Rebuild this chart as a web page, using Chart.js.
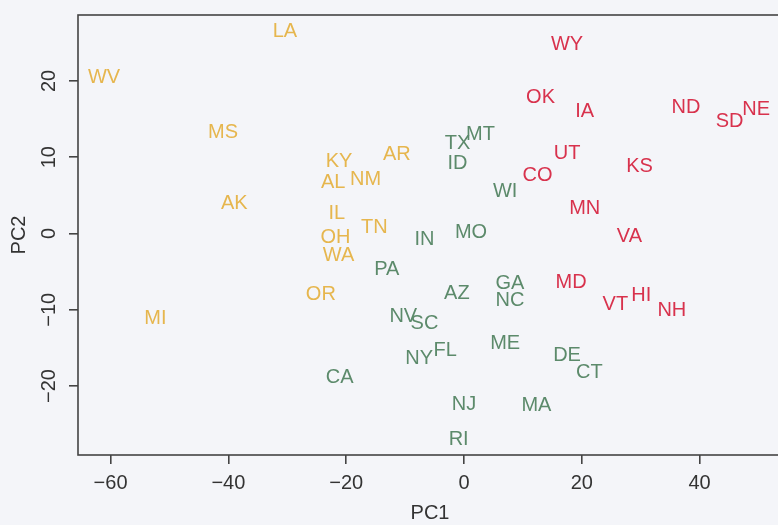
<!DOCTYPE html>
<html><head><meta charset="utf-8">
<script src="https://cdn.jsdelivr.net/npm/chart.js@4/dist/chart.umd.min.js"></script>
<style>html,body{margin:0;padding:0;overflow:hidden;background:#f4f5f9;} canvas{display:block;}</style>
</head><body>
<canvas id="c" width="790" height="525"></canvas>
<script>
// Cluster 1 (orange)
const orangeStates = ['WV','MS','AK','MI','LA','KY','AR','AL','NM','IL','TN','OH','WA','OR'];
const orangePC1 = [-61.1,-40.9,-39.0,-52.4,-30.4,-21.2,-11.4,-22.2,-16.7,-21.6,-15.2,-21.8,-21.3,-24.3];
const orangePC2 = [20.5,13.3,4.0,-11.1,26.5,9.5,10.4,6.8,7.2,2.7,0.9,-0.4,-2.8,-7.9];
// Cluster 2 (green)
const greenStates = ['TX','MT','ID','WI','IN','MO','PA','AZ','GA','NC','NV','SC','NY','FL','ME','CA','NJ','RI','DE','CT','MA'];
const greenPC1 = [-1.1,2.8,-1.1,7.0,-6.7,1.2,-13.1,-1.2,7.8,7.8,-10.3,-6.7,-7.6,-3.2,7.0,-21.1,0.0,-0.9,17.5,21.3,12.3];
const greenPC2 = [11.8,13.0,9.3,5.6,-0.7,0.2,-4.7,-7.8,-6.5,-8.7,-10.8,-11.8,-16.3,-15.3,-14.3,-18.8,-22.4,-26.9,-15.9,-18.2,-22.5];
// Cluster 3 (red)
const redStates = ['WY','OK','IA','ND','SD','NE','UT','CO','KS','MN','VA','MD','VT','HI','NH'];
const redPC1 = [17.5,13.0,20.5,37.7,45.1,49.6,17.5,12.5,29.8,20.5,28.1,18.2,25.7,30.1,35.3];
const redPC2 = [24.8,17.9,16.0,16.6,14.8,16.3,10.5,7.7,8.9,3.4,-0.3,-6.3,-9.3,-8.0,-10.0];

const xTicks = [-60,-40,-20,0,20,40];
const yTicks = [-20,-10,0,10,20];
const xTitle = 'PC1';
const yTitle = 'PC2';

const FONT = '"Liberation Sans", Arial, Helvetica, sans-serif';
const LABEL_SIZE = 20;
const AXIS_COLOR = '#444444';
const TEXT_COLOR = '#333333';

function pts(a, b) { return a.map((v, i) => ({ x: v, y: b[i] })); }
function fmt(v) { return v < 0 ? '\u2212' + Math.abs(v) : String(v); }

const labelPlugin = {
  id: 'stateLabels',
  afterDatasetsDraw(chart) {
    const ctx = chart.ctx;
    ctx.save();
    ctx.font = LABEL_SIZE + 'px ' + FONT;
    ctx.textAlign = 'center';
    ctx.textBaseline = 'alphabetic';
    chart.data.datasets.forEach((ds, di) => {
      const meta = chart.getDatasetMeta(di);
      ctx.fillStyle = ds.labelColor;
      meta.data.forEach((el, i) => {
        ctx.fillText(ds.stateNames[i], el.x, el.y + LABEL_SIZE * 0.3);
      });
    });
    ctx.restore();
  }
};
const framePlugin = {
  id: 'frame',
  afterDraw(chart) {
    const { left, top, right, bottom } = chart.chartArea;
    const ctx = chart.ctx;
    ctx.save();
    ctx.strokeStyle = AXIS_COLOR;
    ctx.lineWidth = 1.6;
    ctx.strokeRect(left, top, right - left, bottom - top);
    ctx.restore();
  }
};

new Chart(document.getElementById('c'), {
  type: 'scatter',
  data: {
    datasets: [
      { data: pts(orangePC1, orangePC2), stateNames: orangeStates, labelColor: '#e6b64e', pointRadius: 0, pointHoverRadius: 0 },
      { data: pts(greenPC1, greenPC2), stateNames: greenStates, labelColor: '#5c8a6b', pointRadius: 0, pointHoverRadius: 0 },
      { data: pts(redPC1, redPC2), stateNames: redStates, labelColor: '#d8324d', pointRadius: 0, pointHoverRadius: 0 }
    ]
  },
  options: {
    responsive: false,
    animation: false,
    events: [],
    layout: { padding: { top: 13, right: 8, bottom: 0, left: 0 } },
    plugins: { legend: { display: false }, tooltip: { enabled: false } },
    scales: {
      x: {
        type: 'linear',
        min: -65.53, max: 54.0,
        afterBuildTicks: s => { s.ticks = xTicks.map(v => ({ value: v })); },
        afterFit: s => { s.height = 70; },
        border: { display: false },
        grid: { drawOnChartArea: false, drawTicks: true, tickLength: 9, color: AXIS_COLOR, lineWidth: 1.6 },
        ticks: { font: { size: 20, family: FONT }, color: TEXT_COLOR, padding: 7, maxRotation: 0, minRotation: 0, callback: v => fmt(v) },
        title: { display: true, text: xTitle, font: { size: 20, family: FONT }, color: TEXT_COLOR, padding: { top: 0, bottom: 0 } }
      },
      y: {
        type: 'linear',
        min: -29.04, max: 28.64,
        afterBuildTicks: s => { s.ticks = yTicks.map(v => ({ value: v })); },
        afterFit: s => { s.width = 78; },
        border: { display: false },
        grid: { drawOnChartArea: false, drawTicks: true, tickLength: 9, color: AXIS_COLOR, lineWidth: 1.6 },
        ticks: { font: { size: 20, family: FONT }, color: TEXT_COLOR, padding: 3, minRotation: 90, maxRotation: 90, crossAlign: 'center', callback: v => fmt(v) },
        title: { display: true, text: yTitle, font: { size: 20, family: FONT }, color: TEXT_COLOR, padding: { top: 7, bottom: 0 } }
      }
    }
  },
  plugins: [labelPlugin, framePlugin]
});
</script>
</body></html>
